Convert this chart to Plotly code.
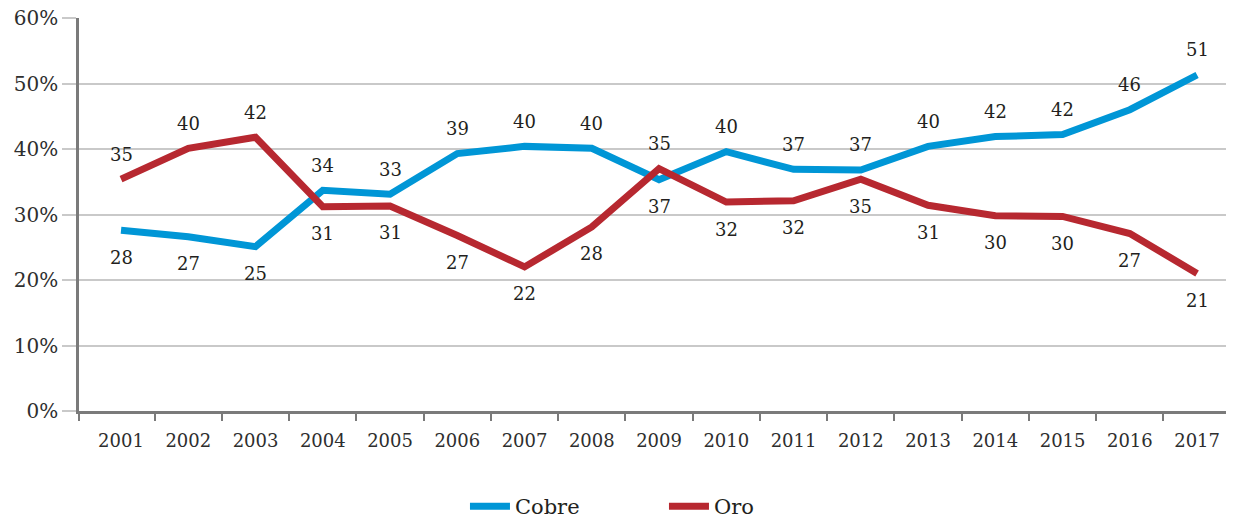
import plotly.graph_objects as go

# Participación en las exportaciones (%)
years = list(range(2001, 2018))
cobre = [27.6, 26.6, 25.1, 33.7, 33.1, 39.3, 40.4, 40.1, 35.3, 39.6,
         36.9, 36.8, 40.4, 41.9, 42.2, 46.0, 51.3]
oro = [35.4, 40.1, 41.8, 31.2, 31.3, 26.8, 22.0, 28.1, 37.0, 31.9,
       32.1, 35.4, 31.4, 29.8, 29.7, 27.1, 21.0]
y_ticks = [0, 10, 20, 30, 40, 50, 60]

COBRE_COLOR = "#0096d6"
ORO_COLOR = "#b72830"
FONT = "DejaVu Serif"
TEXT_COLOR = "#231f20"
TICK_COLOR = "#2e2e2e"
GRID = "#c9c9c9"
AXIS = "#7a7a7a"

fig = go.Figure()
fig.add_trace(go.Scatter(x=years, y=cobre, name="Cobre", mode="lines",
                         line=dict(color=COBRE_COLOR, width=7)))
fig.add_trace(go.Scatter(x=years, y=oro, name="Oro", mode="lines",
                         line=dict(color=ORO_COLOR, width=7)))
# invisible trace that carries the category-boundary ticks on the overlay axis
fig.add_trace(go.Scatter(x=years, y=cobre, xaxis="x2", mode="lines",
                         line=dict(width=0), showlegend=False, hoverinfo="skip"))

# value labels: before 2004 gold is labelled on top, afterwards copper
annotations = []
for yr, c, o in zip(years, cobre, oro):
    top, bottom = max(c, o), min(c, o)
    cobre_on_top = yr >= 2004
    for val, on_top in ((c, cobre_on_top), (o, not cobre_on_top)):
        annotations.append(dict(
            x=yr, y=top if on_top else bottom, text=f"{val:.0f}",
            showarrow=False, yshift=25 if on_top else -27,
            font=dict(family=FONT, size=18, color=TEXT_COLOR)))

x_range = [years[0] - 0.625, years[-1] + 0.43]
# boundary ticks between years, plus one where the y axis meets the x axis
boundary_ticks = [x_range[0]] + [y + 0.5 for y in years[:-1]]

fig.update_layout(
    width=1238, height=524,
    margin=dict(l=79, r=12, t=18, b=113, autoexpand=False),
    paper_bgcolor="white", plot_bgcolor="white",
    font=dict(family=FONT, color=TICK_COLOR),
    annotations=annotations,
    showlegend=True,
    legend=dict(orientation="h", x=0.51, xanchor="center", y=-0.243,
                yanchor="middle", entrywidth=144, itemwidth=40,
                font=dict(family=FONT, size=21, color=TEXT_COLOR)),
    xaxis=dict(range=x_range, tickmode="array", tickvals=years,
               ticktext=[str(y) for y in years], ticks="",
               showgrid=False, zeroline=False, automargin=False,
               showline=True, linecolor=AXIS, linewidth=2.5,
               tickfont=dict(family=FONT, size=18, color=TICK_COLOR),
               ticklabelstandoff=12),
    xaxis2=dict(overlaying="x", side="bottom", range=x_range,
                tickmode="array", tickvals=boundary_ticks,
                showticklabels=False, ticks="outside", ticklen=9,
                tickwidth=1.5, tickcolor=AXIS, showgrid=False,
                zeroline=False, showline=False, automargin=False),
    yaxis=dict(range=[0, 60], tickmode="array", tickvals=y_ticks,
               ticktext=[f"{v}%" for v in y_ticks], automargin=False,
               showgrid=True, gridcolor=GRID, gridwidth=1.5,
               zeroline=False, showline=True, linecolor=AXIS, linewidth=2.5,
               ticks="outside", ticklen=14, tickcolor=GRID, tickwidth=1.5,
               tickfont=dict(family=FONT, size=20, color=TICK_COLOR)),
)

fig.write_html("out.html")
